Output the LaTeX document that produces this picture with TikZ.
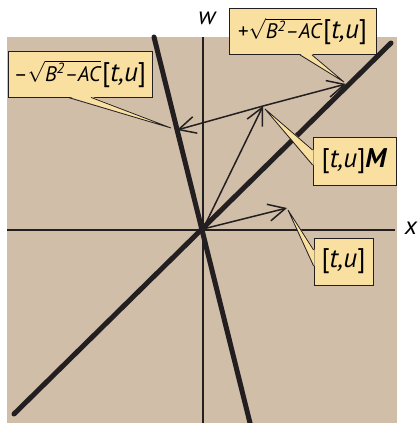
\documentclass[tikz,border=0pt]{standalone}
\usepackage{amsmath}
\usepackage{fontspec}
\setmainfont{PT Sans}
\usetikzlibrary{arrows.meta}
\definecolor{tan}{RGB}{208,190,168}
\definecolor{callout}{RGB}{250,224,160}
\definecolor{ink}{RGB}{35,31,32}

\begin{document}
\begin{tikzpicture}[x=1pt,y=-1pt,
    vec/.style={ink,line width=1.5pt,-{Straight Barb[length=17pt,width=17pt,line width=1.5pt]}},
    eig/.style={ink,line width=5pt,line cap=round},
    axis/.style={ink,line width=1.3pt},
    callbox/.style={draw=ink,fill=callout,line width=0.8pt,minimum height=46pt,inner sep=0pt},
    wedgeline/.style={ink,line width=0.8pt}]
        % text pieces
        \newcommand{\rootpart}[1]{{\fontsize{21}{21}\selectfont #1$\sqrt{\text{\itshape B\textsuperscript{2}--AC}}$}}
        \newcommand{\tupart}{{\fontsize{27}{27}\selectfont[\textit{t,u}]}}

        % page and background
        \useasboundingbox (0,0) rectangle (418,423);
        \fill[tan] (7,37) rectangle (397,423);

        % axes
        \draw[axis] (7,230) -- (395,230);
        \draw[axis] (203,37) -- (203,423);
        \node (wlab) at (207,18) {\fontsize{25}{25}\selectfont\itshape w};
        \node (xlab) at (411,228) {\fontsize{25}{25}\selectfont\itshape x};

        % the two thick lines through the origin
        \draw[eig] (14,414) -- (391,43);
        \draw[eig] (154,37) -- (251,427);

        % vector points
        \coordinate (O) at (203,229);
        \coordinate (P) at (287,208);
        \coordinate (Q) at (263,106);
        \coordinate (R) at (346,84);
        \coordinate (S) at (177,130);

        % vectors
        \draw[vec] (O) -- (P);
        \draw[vec] (O) -- (Q);
        \draw[vec] (Q) -- (R);
        \draw[vec] (Q) -- (S);

        % callout boxes
        \node[callbox,minimum width=144pt] (minusbox) at (80,74) {\rootpart{--}\,\tupart};
        \node[callbox,minimum width=147pt] (plusbox) at (302.5,31.5) {\rootpart{+}\,\tupart};
        \node[callbox,minimum width=83pt,minimum height=48pt] (mbox) at (354.5,161) {{\fontsize{27}{27}\selectfont[\textit{t,u}]\textbf{\textit{M}}}};
        \node[callbox,minimum width=59pt,minimum height=47pt] (tubox) at (343.5,261.5) {\tupart};

        % callout pointers
        \coordinate (mtip) at (171,128);
        \coordinate (ptip) at (344,82);
        \coordinate (qtip) at (265,109);
        \coordinate (ttip) at (288,210);

        \fill[callout] ([xshift=-12pt,yshift=1pt]minusbox.south) -- (mtip) -- ([xshift=11pt,yshift=1pt]minusbox.south) -- cycle;
        \draw[wedgeline] ([xshift=-12pt]minusbox.south) -- (mtip) -- ([xshift=11pt]minusbox.south);

        \fill[callout] ([xshift=-2.5pt,yshift=1pt]plusbox.south) -- (ptip) -- ([xshift=9.5pt,yshift=1pt]plusbox.south) -- cycle;
        \draw[wedgeline] ([xshift=-2.5pt]plusbox.south) -- (ptip) -- ([xshift=9.5pt]plusbox.south);

        \fill[callout] ([xshift=1pt,yshift=11pt]mbox.west) -- (qtip) -- ([xshift=1pt,yshift=-4pt]mbox.west) -- cycle;
        \draw[wedgeline] ([yshift=11pt]mbox.west) -- (qtip) -- ([yshift=-4pt]mbox.west);

        \fill[callout] ([xshift=1pt,yshift=11.5pt]tubox.west) -- (ttip) -- ([xshift=1pt,yshift=-4.5pt]tubox.west) -- cycle;
        \draw[wedgeline] ([yshift=11.5pt]tubox.west) -- (ttip) -- ([yshift=-4.5pt]tubox.west);
\end{tikzpicture}
\end{document}
